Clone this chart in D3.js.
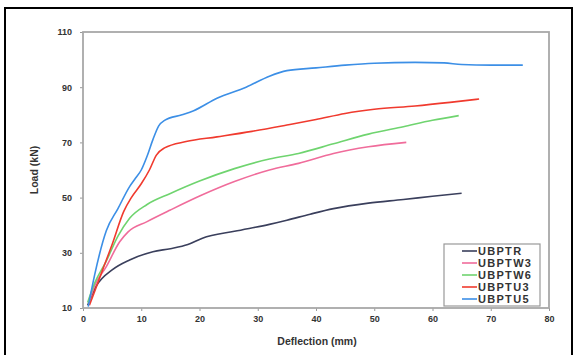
<!DOCTYPE html>
<html>
<head>
<meta charset="utf-8">
<script src="https://cdn.jsdelivr.net/npm/d3@7"></script>
<style>
  body { margin: 0; background: #fff; }
  svg { display: block; font-family: Arial, 'Liberation Sans', sans-serif; }
</style>
</head>
<body>
<svg id="chart" width="577" height="355"></svg>
<script>
// deflection (mm), load (kN) pairs
const ubptr = [[0.8,11],[2.3,18],[5,23.8],[8,27.4],[12,30.4],[15,31.5],[18,33],[20.5,35.3],[26,37.8],[32,40.3],[35,41.8],[39,44],[43,46],[49,48],[55,49.3],[60,50.5],[65,51.6]];
const ubptw3 = [[1,12],[2,18],[4,25],[6.3,34],[7.7,37.5],[11,41.3],[15,45.5],[20.5,51],[26,55.8],[32,60],[37,62.4],[43,66],[49,68.4],[55.5,70]];
const ubptw6 = [[0.8,12],[2,19],[4,27],[6,36],[8,42.5],[11,47.5],[15,51.5],[20,56],[26,60.5],[32,64],[37,66],[43,69.5],[49,73],[55,75.7],[60,78],[64.5,79.7]];
const ubptu3 = [[1.1,11],[2,16],[3.4,24],[5,33],[7,45],[8.3,50],[10,55],[11.4,60],[12.6,65.4],[14,68],[17.7,70.3],[23,72],[29,74],[35,76.3],[40,78.3],[45,80.5],[50,82],[57,83.2],[63,84.5],[68,85.7]];
const ubptu5 = [[0.9,10.5],[2,22],[4,38],[6,46],[8,54],[9,57],[10,60],[11,65],[12,71],[13,76],[14,78],[17,80],[19,81.5],[23,86],[28,90],[32,94],[35,96],[40,97],[45,98],[50,98.7],[57,99],[62,98.8],[65,98.2],[70,98],[75.5,98]];

const seriesNames = ['UBPTR', 'UBPTW3', 'UBPTW6', 'UBPTU3', 'UBPTU5'];
const seriesColors = ['#3a3f5c', '#f06c9b', '#6fd46f', '#f03a2e', '#3c8fe6'];
const xTicks = [0, 10, 20, 30, 40, 50, 60, 70, 80];
const yTicks = [10, 30, 50, 70, 90, 110];

const series = [ubptr, ubptw3, ubptw6, ubptu3, ubptu5];

const svg = d3.select('#chart');
const plot = { left: 83, right: 549, top: 32, bottom: 308 };

// outer frame
svg.append('rect')
    .attr('x', 5).attr('y', 8)
    .attr('width', 567).attr('height', 360)
    .style('fill', 'none')
    .style('stroke', '#000')
    .style('stroke-width', 2);

const xScale = d3.scaleLinear().domain([0, 80]).range([plot.left, plot.right]);
const yScale = d3.scaleLinear().domain([10, 110]).range([plot.bottom, plot.top]);

const xAxis = svg.append('g')
    .attr('transform', `translate(0,${plot.bottom})`)
    .call(d3.axisBottom(xScale).tickValues(xTicks).tickSize(3).tickPadding(5));
const yAxis = svg.append('g')
    .attr('transform', `translate(${plot.left},0)`)
    .call(d3.axisLeft(yScale).tickValues(yTicks).tickSize(3).tickPadding(8));

[xAxis, yAxis].forEach(function(ax) {
    ax.select('.domain').remove();
    ax.selectAll('line').style('stroke', '#999');
    ax.selectAll('text')
        .style('font-size', '9px')
        .style('font-weight', 'bold')
        .style('fill', '#333');
});

// plot border
svg.append('rect')
    .attr('x', plot.left).attr('y', plot.top)
    .attr('width', plot.right - plot.left).attr('height', plot.bottom - plot.top)
    .style('fill', 'none')
    .style('stroke', '#a8a8a8')
    .style('stroke-width', 1.8);

const line = d3.line()
    .x(function(d) { return xScale(d[0]); })
    .y(function(d) { return yScale(d[1]); })
    .curve(d3.curveMonotoneX);

svg.append('g').selectAll('path')
    .data(series)
    .enter().append('path')
    .attr('d', line)
    .style('fill', 'none')
    .style('stroke', function(d, i) { return seriesColors[i]; })
    .style('stroke-width', 1.6);

// axis titles
svg.append('text')
    .attr('transform', `translate(38,${(plot.top + plot.bottom) / 2}) rotate(-90)`)
    .attr('text-anchor', 'middle')
    .style('font-size', '10.5px')
    .style('font-weight', 'bold')
    .style('fill', '#333')
    .text('Load (kN)');
svg.append('text')
    .attr('x', 317).attr('y', 345)
    .attr('text-anchor', 'middle')
    .style('font-size', '10.5px')
    .style('font-weight', 'bold')
    .style('fill', '#333')
    .text('Deflection (mm)');

// legend
const legend = svg.append('g');
legend.append('rect')
    .attr('x', 444).attr('y', 244)
    .attr('width', 96).attr('height', 62)
    .style('fill', '#fff')
    .style('stroke', '#999')
    .style('stroke-width', 1.2);
const item = legend.selectAll('.item')
    .data(seriesNames)
    .enter().append('g')
    .attr('transform', function(d, i) { return `translate(0,${251 + i * 12})`; });
item.append('line')
    .attr('x1', 462).attr('x2', 477)
    .style('stroke', function(d, i) { return seriesColors[i]; })
    .style('stroke-width', 1.6);
item.append('text')
    .attr('x', 478).attr('dy', '0.35em')
    .style('font-size', '11px')
    .style('font-weight', 'bold')
    .style('letter-spacing', '1.3px')
    .style('fill', '#333')
    .text(function(d) { return d; });
</script>
</body>
</html>
